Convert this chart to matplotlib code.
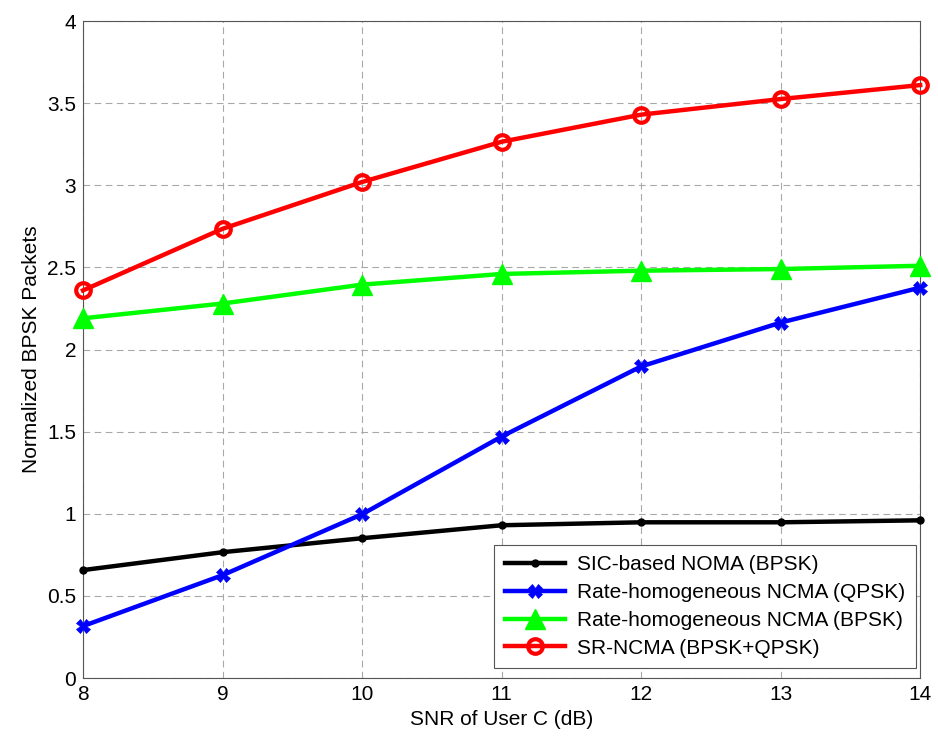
import matplotlib
matplotlib.use("Agg")
import matplotlib.pyplot as plt

snr = [8, 9, 10, 11, 12, 13, 14]
sic_noma = [0.657, 0.766, 0.851, 0.930, 0.948, 0.948, 0.960]
ncma_qpsk = [0.316, 0.626, 0.997, 1.470, 1.897, 2.164, 2.377]
ncma_bpsk = [2.190, 2.280, 2.395, 2.460, 2.480, 2.490, 2.510]
sr_ncma = [2.360, 2.735, 3.020, 3.265, 3.430, 3.525, 3.610]

labels = ["SIC-based NOMA (BPSK)", "Rate-homogeneous NCMA (QPSK)",
          "Rate-homogeneous NCMA (BPSK)", "SR-NCMA (BPSK+QPSK)"]

plt.rcParams["font.family"] = ["Liberation Sans", "DejaVu Sans"]

fig = plt.figure(figsize=(9.38, 7.38), dpi=100)
ax = fig.add_axes([0.0885, 0.0813, 0.8925, 0.8902])

ax.plot(snr, sic_noma, color="black", lw=3.2, marker="o", ms=5,
        clip_on=False, zorder=3, label=labels[0])
ax.plot(snr, ncma_qpsk, color="blue", lw=3.2, marker="X", ms=10, mew=0.5,
        clip_on=False, zorder=3, label=labels[1])
ax.plot(snr, ncma_bpsk, color="#00ff00", lw=3.2, marker="^", ms=14,
        clip_on=False, zorder=3, label=labels[2])
ax.plot(snr, sr_ncma, color="red", lw=3.2, marker="o", ms=10.5, mfc="none",
        mew=3, clip_on=False, zorder=3, label=labels[3])

ax.set_xlim(8, 14)
ax.set_ylim(0, 4)
ax.set_xticks(snr)
ax.set_yticks([0, 0.5, 1, 1.5, 2, 2.5, 3, 3.5, 4])
ax.set_yticklabels(["0", "0.5", "1", "1.5", "2", "2.5", "3", "3.5", "4"])
ax.tick_params(labelsize=15, direction="in", length=0, pad=5)
ax.grid(True, ls=(0, (6, 4)), color="#a8a8a8", lw=0.8)
for s in ax.spines.values():
    s.set_color("#555555")

ax.set_xlabel("SNR of User C (dB)", fontsize=15, labelpad=4)
ax.set_ylabel("Normalized BPSK Packets", fontsize=15, labelpad=4)

leg = ax.legend(loc="lower right", fontsize=15, fancybox=False, framealpha=1,
                edgecolor="#555555", handlelength=2.9, handletextpad=0.6,
                borderpad=0.5, labelspacing=0.42, borderaxespad=0,
                bbox_to_anchor=(0.995, 0.015))
leg.get_frame().set_linewidth(0.8)

fig.savefig("out.png", dpi=100)
